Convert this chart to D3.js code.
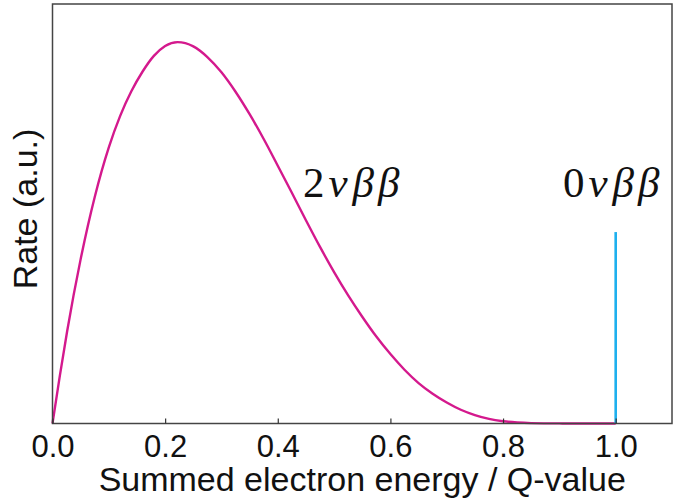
<!DOCTYPE html>
<html>
<head>
<meta charset="utf-8">
<script src="https://cdn.jsdelivr.net/npm/d3@7"></script>
<style>
  body { margin: 0; background: #fff; }
  svg { display: block; }
</style>
</head>
<body>
<svg id="drawspace" width="673" height="498"></svg>
<script>
// values (x = summed energy / Q, y = rate normalised to peak)
let twoNuX = [0, 0.013, 0.026, 0.05, 0.075, 0.1, 0.12, 0.14, 0.16, 0.18, 0.2, 0.222,
  0.25, 0.275, 0.3, 0.325, 0.35, 0.375, 0.4, 0.425, 0.45, 0.475, 0.5, 0.525, 0.55,
  0.575, 0.6, 0.625, 0.65, 0.675, 0.7, 0.725, 0.75, 0.775, 0.8, 0.825, 0.85, 0.9, 0.95, 1.0]
let twoNuY = [0, 0.125, 0.242, 0.431, 0.594, 0.724, 0.806, 0.871, 0.923, 0.964, 0.990, 1.0,
  0.989, 0.961, 0.921, 0.870, 0.811, 0.746, 0.676, 0.605, 0.533, 0.463, 0.397, 0.336, 0.280,
  0.228, 0.182, 0.141, 0.106, 0.078, 0.055, 0.036, 0.022, 0.012, 0.006, 0.0027, 0.0011, 0.0002, 0.00002, 0]

let zeroNuX = [1.0, 1.0]
let zeroNuY = [0, 0.502]

let xTicks = [0, 0.2, 0.4, 0.6, 0.8, 1.0]
let xDomain = [0, 1.1]
let yDomain = [0, 1.1]

let drawSpace = d3.select("#drawspace")

let plotL = 52.5, plotR = 672, plotT = 4, plotB = 423.5

let x = d3.scaleLinear().domain(xDomain).range([plotL, plotR])
let y = d3.scaleLinear().domain(yDomain).range([plotB, plotT])

let twoNu = twoNuX.map((d, i) => [d, twoNuY[i]])
let zeroNu = zeroNuX.map((d, i) => [d, zeroNuY[i]])

let line = d3.line()
  .x(d => x(d[0]))
  .y(d => y(d[1]))
  .curve(d3.curveMonotoneX)

drawSpace.append("path")
  .datum(twoNu)
  .attr("d", line)
  .attr("fill", "none")
  .attr("stroke", "#d4198d")
  .attr("stroke-width", 2.4)

drawSpace.append("path")
  .datum(zeroNu)
  .attr("d", d3.line().x(d => x(d[0])).y(d => y(d[1])))
  .attr("fill", "none")
  .attr("stroke", "#1eb0ee")
  .attr("stroke-width", 2.6)

// frame
drawSpace.append("rect")
  .attr("x", plotL).attr("y", plotT)
  .attr("width", plotR - plotL).attr("height", plotB - plotT)
  .attr("fill", "none")
  .attr("stroke", "#444")
  .attr("stroke-width", 1.5)

// bottom axis, ticks pointing inward
let xAxis = d3.axisBottom(x)
  .tickValues(xTicks)
  .tickFormat(d3.format(".1f"))
  .tickSizeInner(-5)
  .tickSizeOuter(0)
  .tickPadding(14)

let gx = drawSpace.append("g")
  .attr("transform", "translate(0," + plotB + ")")
  .call(xAxis)
gx.select(".domain").remove()
gx.selectAll(".tick line").attr("stroke", "#333").attr("stroke-width", 1.2)
gx.selectAll(".tick text")
  .attr("y", 33)
  .attr("dy", null)
  .attr("fill", "#111")
  .style("font-family", "'Liberation Sans', Arial, sans-serif")
  .style("font-size", "31px")

drawSpace.append("text")
  .attr("x", (plotL + plotR) / 2)
  .attr("y", 491)
  .attr("text-anchor", "middle")
  .attr("fill", "#111")
  .style("font-family", "'Liberation Sans', Arial, sans-serif")
  .style("font-size", "34px")
  .text("Summed electron energy / Q-value")

drawSpace.append("text")
  .attr("transform", "translate(37,209) rotate(-90)")
  .attr("text-anchor", "middle")
  .attr("fill", "#111")
  .style("font-family", "'Liberation Sans', Arial, sans-serif")
  .style("font-size", "34px")
  .text("Rate (a.u.)")

// process labels
function mathLabel(x0, yb, digit) {
  let t = drawSpace.append("text")
    .attr("x", x0)
    .attr("y", yb)
    .attr("fill", "#111")
    .style("font-family", "'Liberation Serif', 'DejaVu Serif', serif")
    .style("font-size", "43px")
  t.append("tspan").text(digit)
  t.append("tspan").style("font-style", "italic").attr("dx", 4).text("ν")
  t.append("tspan").style("font-style", "italic").attr("dx", 5).text("β")
  t.append("tspan").style("font-style", "italic").attr("dx", 4).text("β")
}
mathLabel(303, 197, "2")
mathLabel(563, 197, "0")
</script>
</body>
</html>
